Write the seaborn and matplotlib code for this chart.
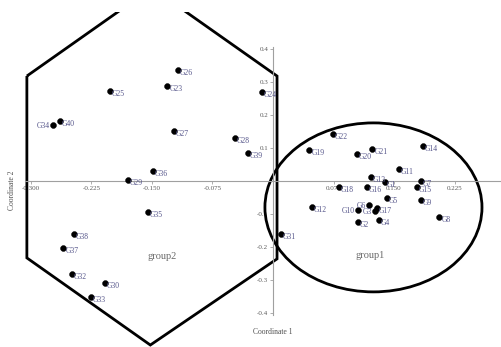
import matplotlib
matplotlib.use("Agg")
import matplotlib.pyplot as plt
from matplotlib.patches import Ellipse, Polygon
import seaborn as sns
import pandas as pd

# point names and PCoA coordinates
names = ["G1", "G2", "G3", "G4", "G5", "G6", "G7", "G8", "G9", "G10",
         "G11", "G12", "G13", "G14", "G15", "G16", "G17", "G18", "G19", "G20",
         "G21", "G22", "G23", "G24", "G25", "G26", "G27", "G28", "G29", "G30",
         "G31", "G32", "G33", "G34", "G35", "G36", "G37", "G38", "G39", "G40"]
coord1 = [0.139, 0.105, 0.126, 0.131, 0.141, 0.119, 0.183, 0.206, 0.183, 0.105,
          0.156, 0.048, 0.121, 0.186, 0.178, 0.116, 0.129, 0.082, 0.045, 0.104,
          0.123, 0.074, -0.131, -0.014, -0.202, -0.118, -0.123, -0.047, -0.180, -0.208,
          0.010, -0.249, -0.226, -0.273, -0.155, -0.149, -0.260, -0.247, -0.031, -0.264]
coord2 = [-0.003, -0.124, -0.091, -0.118, -0.052, -0.073, 0.000, -0.109, -0.058, -0.088,
          0.036, -0.079, 0.012, 0.106, -0.018, -0.018, -0.082, -0.018, 0.094, 0.082,
          0.097, 0.142, 0.288, 0.270, 0.273, 0.336, 0.152, 0.130, 0.003, -0.309,
          -0.161, -0.282, -0.352, 0.170, -0.094, 0.030, -0.203, -0.161, 0.085, 0.182]
left_labels = ["G34", "G10", "G6", "G3"]

# hand drawn group outlines
hex_x = [-0.305, -0.305, -0.152, 0.005, 0.005, -0.150]
hex_y = [0.318, -0.233, -0.497, -0.236, 0.318, 0.585]
ell_center = (0.1245, -0.080)
ell_w, ell_h = 0.269, 0.512

xticks = [-0.3, -0.225, -0.15, -0.075, 0.075, 0.15, 0.225]
xticklabels = ["-0.300", "-0.225", "-0.150", "-0.075", "0.075", "0.150", "0.225"]
yticks = [-0.4, -0.3, -0.2, -0.1, 0.1, 0.2, 0.3, 0.4]
yticklabels = ["-0.4", "-0.3", "-0.2", "-0.1", "0.1", "0.2", "0.3", "0.4"]

df = pd.DataFrame({"name": names, "c1": coord1, "c2": coord2})

sns.set_theme(style="white")
plt.rcParams["font.family"] = ["Liberation Serif", "DejaVu Serif"]

fig = plt.figure(figsize=(5.02, 3.47), dpi=100)
ax = fig.add_axes([0, 0, 1, 335 / 347])

sns.scatterplot(data=df, x="c1", y="c2", color="black", s=18, edgecolor=None,
                ax=ax, zorder=3, legend=False)

lab_col = "#55558a"
for _, r in df.iterrows():
    if r["name"] in left_labels:
        ax.annotate(r["name"], (r["c1"], r["c2"]), xytext=(-2, -0.5),
                    textcoords="offset points", ha="right", va="center",
                    fontsize=5.5, color=lab_col)
    else:
        ax.annotate(r["name"], (r["c1"], r["c2"]), xytext=(1.5, -2),
                    textcoords="offset points", ha="left", va="center",
                    fontsize=5.5, color=lab_col)

ax.add_patch(Polygon(list(zip(hex_x, hex_y)), closed=True, fill=False,
                     edgecolor="black", lw=2.0, zorder=2))
ax.add_patch(Ellipse(ell_center, ell_w, ell_h, fill=False,
                     edgecolor="black", lw=2.0, zorder=2))

ax.text(-0.138, -0.230, "group2", fontsize=7.5, color="#6a6a6a", ha="center", va="center")
ax.text(0.120, -0.227, "group1", fontsize=7.5, color="#6a6a6a", ha="center", va="center")

ax.set_xlim(-0.3383, 0.2838)
ax.set_ylim(-0.503, 0.512)

for s in ["top", "right"]:
    ax.spines[s].set_visible(False)
ax.spines["left"].set_position(("data", 0))
ax.spines["bottom"].set_position(("data", 0))
ax.spines["left"].set_bounds(-0.405, 0.405)
ax.spines["bottom"].set_bounds(-0.307, 0.2838)
for s in ["left", "bottom"]:
    ax.spines[s].set_color("#a0a0a0")
    ax.spines[s].set_linewidth(0.8)

ax.set_xticks(xticks)
ax.set_xticklabels(xticklabels)
ax.set_yticks(yticks)
ax.set_yticklabels(yticklabels)
ax.tick_params(axis="both", which="major", labelsize=5, labelcolor="#5a5a5a",
               color="#a0a0a0", length=2, width=0.6, pad=1.5, direction="out")
ax.tick_params(left=True, bottom=True)
ax.set_xlabel("")
ax.set_ylabel("")

ax.text(0.0, -0.457, "Coordinate 1", fontsize=5.5, color="#505050", ha="center", va="center")
ax.text(-0.323, -0.027, "Coordinate 2", fontsize=5.5, color="#505050", ha="center",
        va="center", rotation=90)

fig.savefig("out.png", dpi=100)
